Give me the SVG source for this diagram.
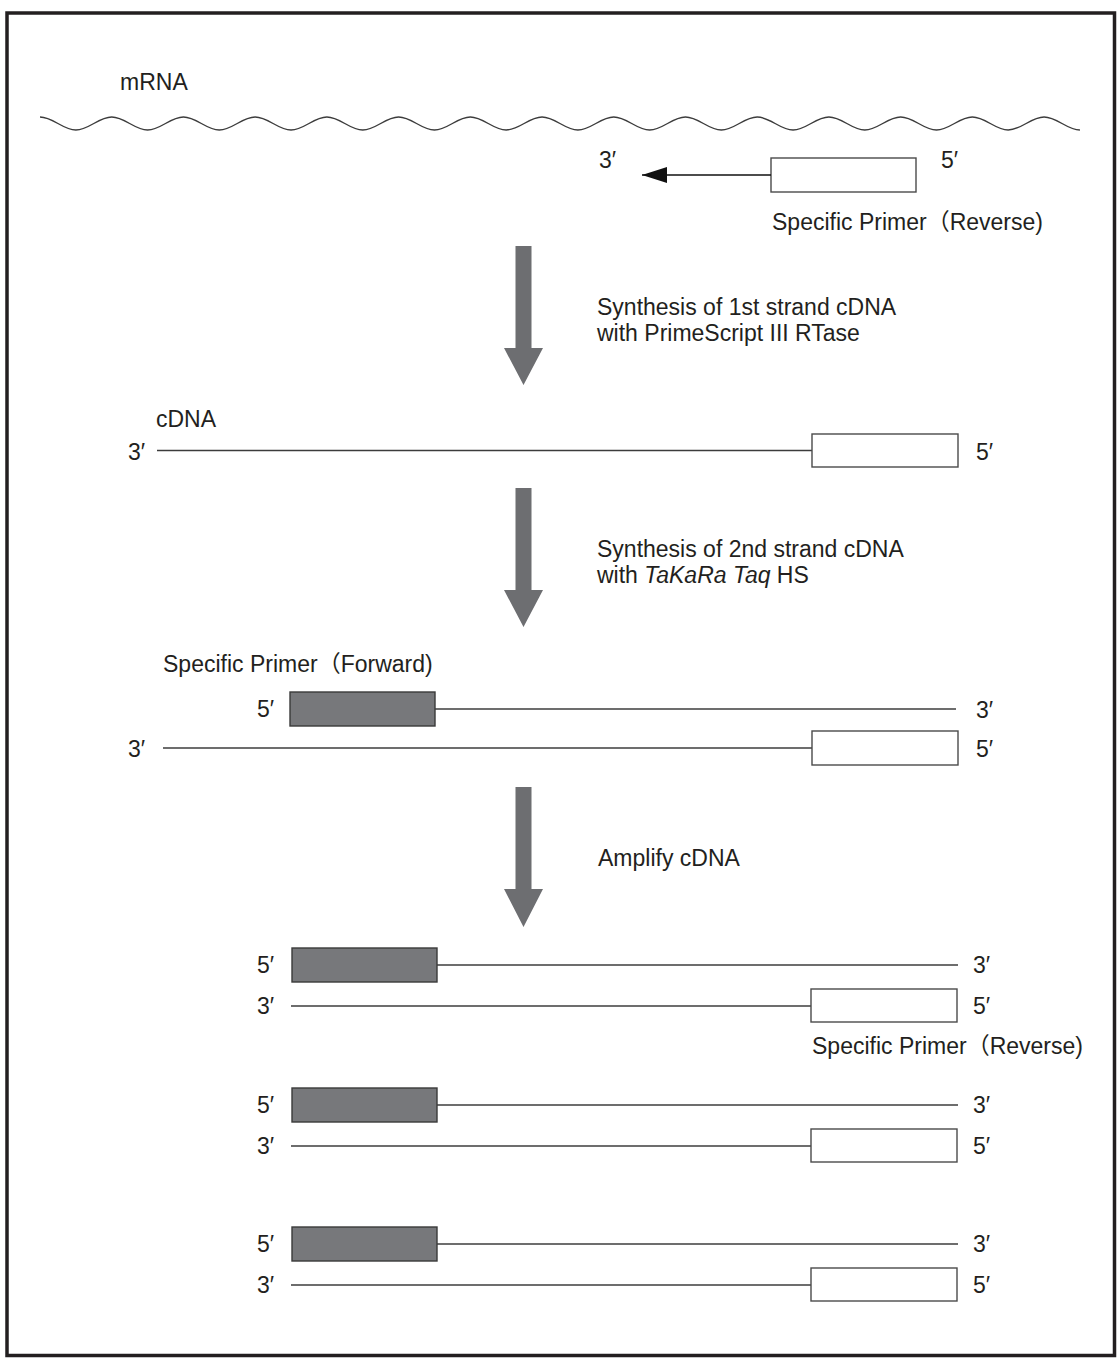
<svg xmlns="http://www.w3.org/2000/svg" width="1118" height="1358" viewBox="0 0 1118 1358">
<style>
  text { font-family: "Liberation Sans", "Noto Sans CJK JP", sans-serif; font-size: 23px; fill: #231f20; }
  .strand { stroke: #3c3c3c; stroke-width: 1.4; fill: none; }
  .rev { fill: #ffffff; stroke: #4a4a4a; stroke-width: 1.4; }
  .fwd { fill: #77787b; stroke: #3a3a3a; stroke-width: 1.4; }
  .big { fill: #6d6e71; }
</style>
<defs>
  <marker id="ah" markerWidth="25" markerHeight="16" refX="25" refY="8" orient="auto" markerUnits="userSpaceOnUse">
    <path d="M0,0 L25,8 L0,16 Z" fill="#111"/>
  </marker>
</defs>
<rect x="7" y="13" width="1107.5" height="1342.5" fill="#fff" stroke="#231f20" stroke-width="3.5"/>

<g id="mrna">
  <text x="120" y="90">mRNA</text>
  <path class="strand" stroke-width="1.2" d="M40,117 c13.06,0 22.8,13 35.86,13 s22.8,-13 35.86,-13 s22.8,13 35.86,13 s22.8,-13 35.86,-13 s22.8,13 35.86,13 s22.8,-13 35.86,-13 s22.8,13 35.86,13 s22.8,-13 35.86,-13 s22.8,13 35.86,13 s22.8,-13 35.86,-13 s22.8,13 35.86,13 s22.8,-13 35.86,-13 s22.8,13 35.86,13 s22.8,-13 35.86,-13 s22.8,13 35.86,13 s22.8,-13 35.86,-13 s22.8,13 35.86,13 s22.8,-13 35.86,-13 s22.8,13 35.86,13 s22.8,-13 35.86,-13 s22.8,13 35.86,13 s22.8,-13 35.86,-13 s22.8,13 35.86,13 s22.8,-13 35.86,-13 s22.8,13 35.86,13 s22.8,-13 35.86,-13 s22.8,13 35.86,13 s22.8,-13 35.86,-13 s22.8,13 35.86,13"/>
</g>

<g id="reverse-primer-top">
  <text x="599" y="168">3′</text>
  <rect class="rev" x="771" y="158" width="145" height="34"/>
  <text x="941" y="168">5′</text>
  <text x="772" y="230">Specific Primer（Reverse)</text>
</g>

<g id="step1">
  <text x="597" y="315">Synthesis of 1st strand cDNA</text>
  <text x="597" y="341">with PrimeScript III RTase</text>
</g>

<g id="cdna">
  <text x="156" y="427">cDNA</text>
  <text x="128" y="460">3′</text>
  <line class="strand" x1="157" y1="450.5" x2="812" y2="450.5"/>
  <rect class="rev" x="812" y="434" width="146" height="33"/>
  <text x="976" y="460">5′</text>
</g>

<g id="step2">
  <text x="597" y="557">Synthesis of 2nd strand cDNA</text>
  <text x="597" y="583">with <tspan font-style="italic">TaKaRa Taq</tspan> HS</text>
</g>

<g id="double-strand">
  <text x="163" y="672">Specific Primer（Forward)</text>
  <text x="257" y="717">5′</text>
  <rect class="fwd" x="290" y="692" width="145" height="34"/>
  <line class="strand" x1="435" y1="709" x2="956" y2="709"/>
  <text x="976" y="718">3′</text>
  <text x="128" y="757">3′</text>
  <line class="strand" x1="163" y1="748" x2="812" y2="748"/>
  <rect class="rev" x="812" y="731" width="146" height="34"/>
  <text x="976" y="757">5′</text>
</g>

<g id="step3">
  <text x="598" y="866">Amplify cDNA</text>
</g>

<g id="product-1">
  <text x="257" y="973">5′</text>
  <rect class="fwd" x="292" y="948" width="145" height="34"/>
  <line class="strand" x1="437" y1="965" x2="958" y2="965"/>
  <text x="973" y="973">3′</text>
  <text x="257" y="1014">3′</text>
  <line class="strand" x1="291" y1="1006" x2="811" y2="1006"/>
  <rect class="rev" x="811" y="989" width="146" height="33"/>
  <text x="973" y="1014">5′</text>
  <text x="812" y="1054">Specific Primer（Reverse)</text>
</g>

<g id="product-2" transform="translate(0,140)">
  <text x="257" y="973">5′</text>
  <rect class="fwd" x="292" y="948" width="145" height="34"/>
  <line class="strand" x1="437" y1="965" x2="958" y2="965"/>
  <text x="973" y="973">3′</text>
  <text x="257" y="1014">3′</text>
  <line class="strand" x1="291" y1="1006" x2="811" y2="1006"/>
  <rect class="rev" x="811" y="989" width="146" height="33"/>
  <text x="973" y="1014">5′</text>
</g>

<g id="product-3" transform="translate(0,279)">
  <text x="257" y="973">5′</text>
  <rect class="fwd" x="292" y="948" width="145" height="34"/>
  <line class="strand" x1="437" y1="965" x2="958" y2="965"/>
  <text x="973" y="973">3′</text>
  <text x="257" y="1014">3′</text>
  <line class="strand" x1="291" y1="1006" x2="811" y2="1006"/>
  <rect class="rev" x="811" y="989" width="146" height="33"/>
  <text x="973" y="1014">5′</text>
</g>

<g id="connectors">
  <line x1="771" y1="175" x2="642" y2="175" stroke="#111" stroke-width="1.4" marker-end="url(#ah)"/>
  <polygon class="big" points="515.5,246 531.5,246 531.5,348 543,348 523.5,385 504,348 515.5,348"/>
  <polygon class="big" points="515.5,488 531.5,488 531.5,590 543,590 523.5,627 504,590 515.5,590"/>
  <polygon class="big" points="515.5,787 531.5,787 531.5,889 543,889 523.5,927 504,889 515.5,889"/>
</g>
</svg>
